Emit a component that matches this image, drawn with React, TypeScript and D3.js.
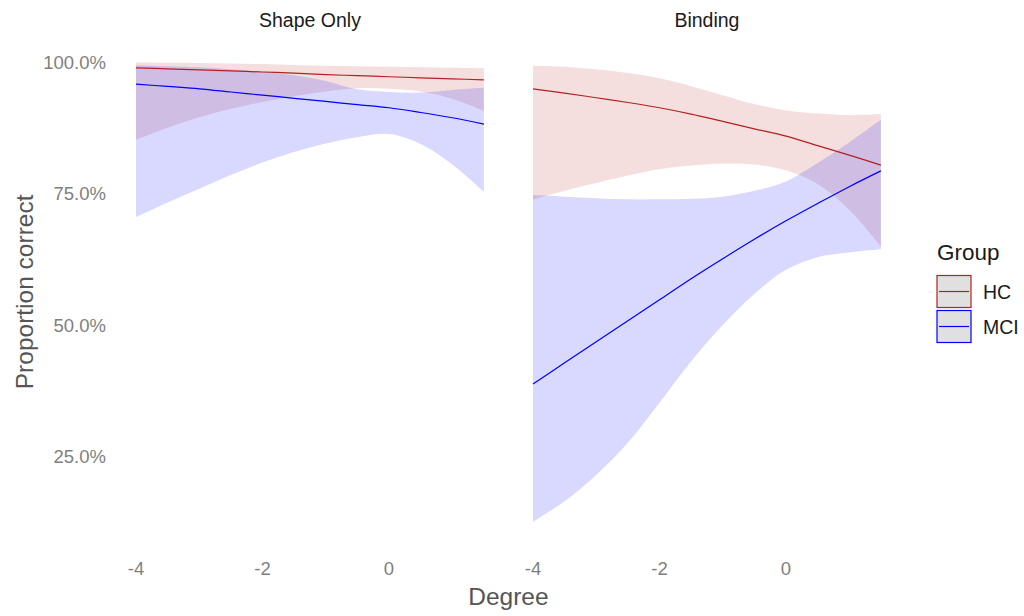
import React from "react";
import * as d3 from "d3";

// degree values where the model predictions were read
const degree = [-4, -3.5, -3, -2.5, -2, -1.5, -1, -0.5, 0, 0.5, 1, 1.5];
const panels = ["Shape Only", "Binding"];
const groups = ["HC", "MCI"];
const xTicks = [-4, -2, 0];
const yTicks = [0.25, 0.5, 0.75, 1];

// Shape Only (percent correct)
const shapeHcFit = [98.9, 98.7, 98.5, 98.3, 98.1, 97.9, 97.6, 97.4, 97.2, 97.0, 96.8, 96.6];
const shapeHcHigh = [99.9, 99.85, 99.8, 99.7, 99.6, 99.45, 99.3, 99.2, 99.1, 99.0, 98.9, 98.8];
const shapeHcLow = [85.2, 87.5, 89.5, 91.1, 92.4, 93.5, 94.4, 95.0, 94.9, 94.4, 93.0, 90.7];
const shapeMciFit = [95.8, 95.35, 94.9, 94.3, 93.7, 93.1, 92.5, 91.9, 91.3, 90.4, 89.4, 88.2];
const shapeMciHigh = [99.4, 99.2, 99.0, 98.6, 98.1, 97.5, 96.4, 94.8, 94.3, 94.2, 94.7, 95.1];
const shapeMciLow = [70.5, 73.3, 75.9, 78.5, 80.9, 82.9, 84.5, 85.7, 86.3, 84.4, 80.5, 75.3];

// Binding (percent correct)
const bindHcFit = [94.9, 94.1, 93.2, 92.3, 91.3, 90.1, 88.7, 87.3, 85.9, 84.1, 82.3, 80.4];
const bindHcHigh = [99.3, 99.1, 98.6, 97.9, 96.9, 95.4, 93.7, 92.0, 90.8, 90.2, 89.9, 90.1];
const bindHcLow = [73.8, 75.5, 77.0, 78.4, 79.6, 80.3, 80.7, 80.5, 79.4, 76.8, 71.9, 64.9];
const bindMciFit = [38.8, 42.8, 46.8, 50.8, 54.8, 58.8, 62.6, 66.3, 69.8, 73.1, 76.3, 79.3];
const bindMciHigh = [74.7, 74.4, 74.1, 73.9, 73.9, 74.0, 74.4, 75.5, 77.3, 80.8, 84.7, 89.0];
const bindMciLow = [12.6, 16.5, 21.5, 27.6, 35.2, 43.1, 50.0, 55.9, 60.5, 62.9, 63.8, 64.4];

const colors: Record<string, string> = { HC: "#B22222", MCI: "#0000FF" };
const font = "'Liberation Sans', Arial, sans-serif";

const series = [
  { panel: "Shape Only", group: "HC", fit: shapeHcFit, low: shapeHcLow, high: shapeHcHigh },
  { panel: "Shape Only", group: "MCI", fit: shapeMciFit, low: shapeMciLow, high: shapeMciHigh },
  { panel: "Binding", group: "HC", fit: bindHcFit, low: bindHcLow, high: bindHcHigh },
  { panel: "Binding", group: "MCI", fit: bindMciFit, low: bindMciLow, high: bindMciHigh },
];

const App = () => {
  const width = 1024;
  const height = 616;

  const y = d3.scaleLinear().domain([0, 1]).range([588, 62]);
  const xScales: Record<string, d3.ScaleLinear<number, number>> = {
    "Shape Only": d3.scaleLinear().domain([-4, 0]).range([136, 389]),
    Binding: d3.scaleLinear().domain([-4, 0]).range([533, 786]),
  };
  // panel extents with ggplot's 5% expansion
  const xExt = [-4.275, 1.775];
  const pct = d3.format(".1%");
  const curve = d3.curveCatmullRom.alpha(0.5);

  return (
    <svg
      width={width}
      height={height}
      style={{ position: "absolute", left: 0, top: 0, background: "#fff" }}
      fontFamily={font}
    >
      {panels.map((p) => {
        const x = xScales[p];
        const cx = (x(xExt[0]) + x(xExt[1])) / 2;
        const rows = series.filter((s) => s.panel === p);
        return (
          <g key={p}>
            <text x={cx} y={27} textAnchor="middle" fontSize={19.5} fill="#1a1a1a">
              {p}
            </text>
            {rows.map((s) => {
              const a = d3
                .area<number>()
                .x((d) => x(d))
                .y0((_, i) => y(s.low[i] / 100))
                .y1((_, i) => y(s.high[i] / 100))
                .curve(curve);
              return (
                <path
                  key={"r" + s.group}
                  d={a(degree) || ""}
                  fill={colors[s.group]}
                  fillOpacity={0.15}
                />
              );
            })}
            {rows.map((s) => {
              const l = d3
                .line<number>()
                .x((d) => x(d))
                .y((_, i) => y(s.fit[i] / 100))
                .curve(curve);
              return (
                <path
                  key={"l" + s.group}
                  d={l(degree) || ""}
                  fill="none"
                  stroke={colors[s.group]}
                  strokeWidth={1.2}
                />
              );
            })}
            {xTicks.map((t) => (
              <text
                key={t}
                x={x(t)}
                y={574.5}
                textAnchor="middle"
                fontSize={18.5}
                fill="#7f7f7f"
              >
                {t}
              </text>
            ))}
          </g>
        );
      })}

      {yTicks.map((t) => (
        <text key={t} x={106} y={y(t) + 6.6} textAnchor="end" fontSize={18.5} fill="#7f7f7f">
          {pct(t)}
        </text>
      ))}

      <text
        transform={`translate(33, ${(y(0.082) + y(1.044)) / 2}) rotate(-90)`}
        textAnchor="middle"
        fontSize={24.5}
        fill="#555555"
      >
        Proportion correct
      </text>
      <text
        x={(xScales["Shape Only"](xExt[0]) + xScales["Binding"](xExt[1])) / 2}
        y={605}
        textAnchor="middle"
        fontSize={24.5}
        fill="#555555"
      >
        Degree
      </text>

      {/* legend */}
      <g transform="translate(937, 0)">
        <text x={0} y={260} fontSize={22.5} fill="#1a1a1a">
          Group
        </text>
        {groups.map((g, i) => (
          <g key={g} transform={`translate(0, ${275.5 + i * 35})`}>
            <rect x={0} y={0} width={34} height={32} fill="#e0e0e0" stroke={colors[g]} strokeWidth={1.2} />
            <line x1={2} x2={32} y1={16} y2={16} stroke={colors[g]} strokeWidth={1.2} />
            <text x={46} y={23} fontSize={19.5} fill="#1a1a1a">
              {g}
            </text>
          </g>
        ))}
      </g>
    </svg>
  );
};

export default App;
